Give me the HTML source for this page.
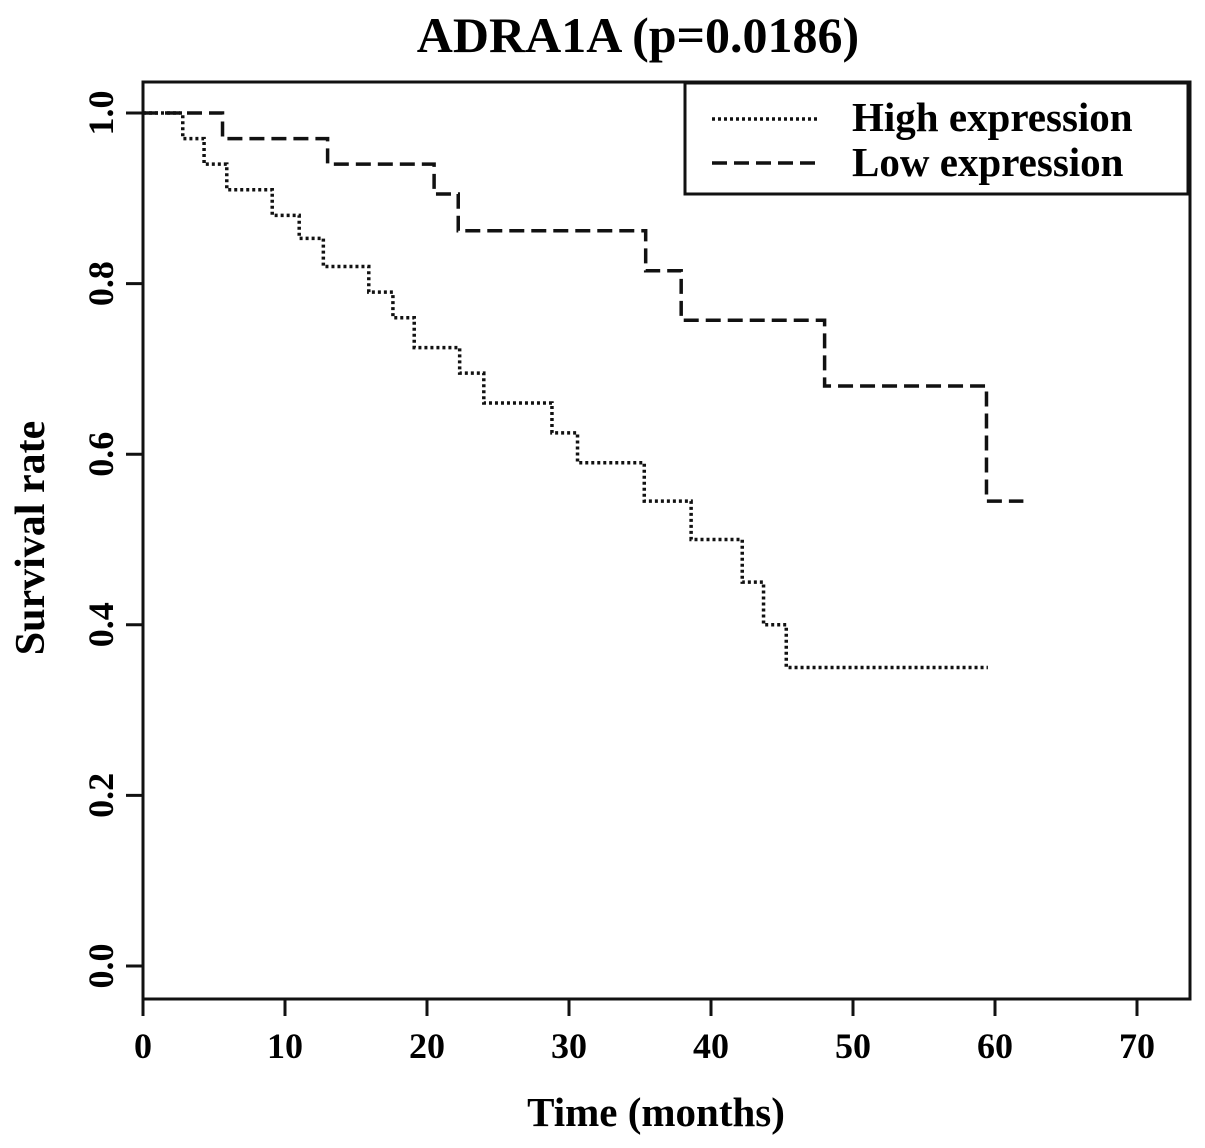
<!DOCTYPE html>
<html><head><meta charset="utf-8"><style>
html,body{margin:0;padding:0;background:#fff;}
svg{display:block;font-family:"Liberation Serif",serif;font-weight:bold;}
</style></head><body>
<svg id="chart" width="1205" height="1148" xmlns="http://www.w3.org/2000/svg">
<text x="638" y="52" font-size="50" text-anchor="middle">ADRA1A (p=0.0186)</text>
<rect x="143" y="82" width="1047" height="917" fill="none" stroke="#111" stroke-width="3"/>
<g id="axes"></g>
<g id="series"></g>
<text x="656" y="1126" font-size="41" text-anchor="middle">Time (months)</text>
<text transform="translate(44,538) rotate(-90)" font-size="42" text-anchor="middle">Survival rate</text>
<g>
<rect x="685" y="83" width="503" height="111" fill="#fff" stroke="#111" stroke-width="3"/>
<line x1="712" y1="119" x2="818" y2="119" stroke="#111" stroke-width="3.5" stroke-dasharray="3,3"/>
<text x="852" y="131" font-size="41">High expression</text>
<line x1="712" y1="163" x2="818" y2="163" stroke="#111" stroke-width="3.5" stroke-dasharray="15,7"/>
<text x="852" y="176" font-size="41">Low expression</text>
</g>
</svg>
<script>
const xTicks=[0,10,20,30,40,50,60,70];
const yTicks=[0.0,0.2,0.4,0.6,0.8,1.0];
const yTickLabels=["0.0","0.2","0.4","0.6","0.8","1.0"];
const highTimes=[0,2.8,4.3,5.9,9.1,11,12.7,15.9,17.6,19.1,22.3,24,28.8,30.6,35.3,38.6,42.2,43.7,45.3,59.5];
const highSurv=[1.0,0.97,0.94,0.91,0.88,0.853,0.82,0.79,0.76,0.725,0.695,0.66,0.625,0.59,0.545,0.5,0.45,0.4,0.35,0.35];
const lowTimes=[0,5.6,13,20.5,22.2,35.4,37.9,48,59.4,62];
const lowSurv=[1.0,0.97,0.94,0.905,0.862,0.815,0.757,0.68,0.545,0.545];
const X=v=>143+v*14.2, Y=v=>966-v*853;
const NS="http://www.w3.org/2000/svg";
const axes=document.getElementById('axes'), series=document.getElementById('series');
function mk(tag,attrs,parent){const e=document.createElementNS(NS,tag);for(const k in attrs)e.setAttribute(k,attrs[k]);parent.appendChild(e);return e;}
xTicks.forEach(t=>{
 const l=mk('line',{x1:X(t),x2:X(t),y1:999,y2:1016,stroke:'#111','stroke-width':3},axes);
 
 
 const tx=mk('text',{x:X(t),y:1058,'font-size':36,'text-anchor':'middle'},axes);
 tx.textContent=t;
 
 
});
yTicks.forEach((t,i)=>{
 const l=mk('line',{x1:126,x2:143,y1:Y(t),y2:Y(t),stroke:'#111','stroke-width':3},axes);
 
 
 const tx=mk('text',{transform:`translate(113,${Y(t)}) rotate(-90)`,'font-size':36,'text-anchor':'middle'},axes);
 tx.textContent=yTickLabels[i];
 
 
});
function stepPath(ts,ss){let d=`M${X(ts[0])},${Y(ss[0])}`;for(let i=1;i<ts.length;i++){d+=` H${X(ts[i])} V${Y(ss[i])}`;}return d;}
const hp=mk('path',{d:stepPath(highTimes,highSurv),fill:'none',stroke:'#111','stroke-width':3.5,'stroke-dasharray':'3,3'},series);


const lp=mk('path',{d:stepPath(lowTimes,lowSurv),fill:'none',stroke:'#111','stroke-width':3.5,'stroke-dasharray':'15,7'},series);


</script>
</body></html>
